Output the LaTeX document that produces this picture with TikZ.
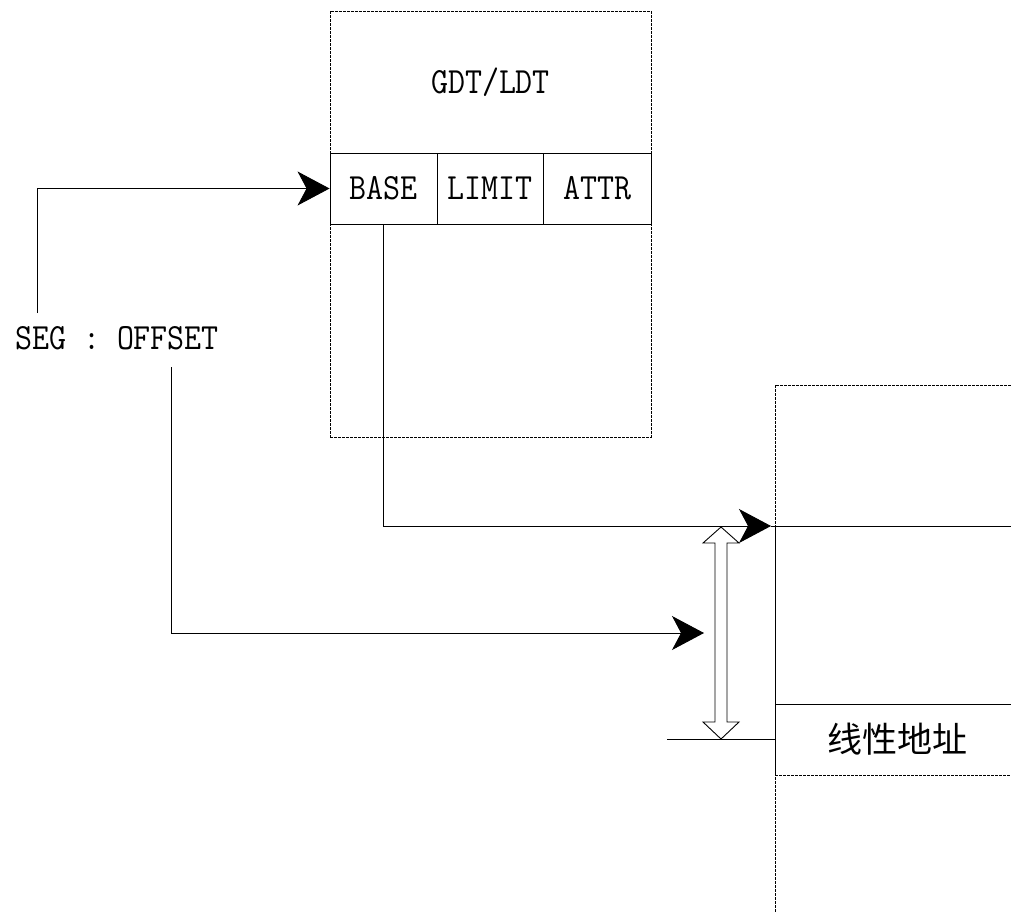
\documentclass[tikz,border=0pt]{standalone}
\usepackage{fontspec}
\newfontfamily\cjk{Noto Sans CJK SC}
\usetikzlibrary{arrows.meta}
\newcommand\tallt[1]{\scalebox{1}[1.12]{#1}}
\begin{document}
\begin{tikzpicture}[x=1pt,y=-1pt,
  line width=0.9pt,
  dotbox/.style={draw, dash pattern=on 3pt off 1pt, line width=0.9pt},
  cell/.style={draw, minimum height=71pt, inner sep=0pt, font=\fontsize{33}{36}\selectfont\ttfamily},
  lbl/.style={inner sep=0pt, font=\fontsize{33}{36}\selectfont\ttfamily},
  arr/.style={-{Stealth[length=32pt,width=34pt,inset=9pt]}},
  dbl/.style={draw, fill=white, line width=0.9pt}]
\useasboundingbox (0,0) rectangle (1011,913);
% GDT/LDT table
\node[dotbox, minimum width=321pt, minimum height=426pt, inner sep=0pt] (gdt) at (490.5,224) {};
\node[lbl] (gdtlbl) at (490.5,82) {\tallt{GDT/LDT}};
\node[cell, minimum width=107pt] (base) at (383.5,188.5) {\tallt{BASE}};
\node[cell, minimum width=106pt] (limit) at (490,188.5) {\tallt{LIMIT}};
\node[cell, minimum width=108pt] (attr) at (597,188.5) {\tallt{ATTR}};
% segment:offset
\node[lbl] (seg) at (117,338) {\tallt{SEG : OFFSET}};
\coordinate (segtop) at (37,313);
\coordinate (offbot) at (171,367);
% memory
\coordinate (memtl) at (775,385);
\draw[dotbox] (1011,385) -- (memtl) -- (775,913);
\coordinate (memtop) at (775,526);
\draw (1011,526) -- (memtop) -- (775,775);
\draw (775,704) -- (1011,704);
\draw[dotbox] (775,775) -- (1011,775);
\node[inner sep=0pt, minimum width=236pt, minimum height=71pt, font=\fontsize{35}{38}\selectfont\cjk] (linear) at (893,739.5) {\hspace{8pt}线性地址};
% connectors
\coordinate (memarr) at (771,526);
\draw[arr] (segtop) |- (base.west);
\draw[arr] (base.south) |- (memarr);
\draw (memarr) -- (memtop);
\coordinate (offtip) at (704,633);
\draw[arr] (offbot) |- (offtip);
\coordinate (lin0) at (667,739.5);
\draw (lin0) -- (linear.west);
% hollow double arrow
\coordinate (dtop) at (721,527);
\coordinate (dbot) at (721,739);
\draw[dbl] (dtop) -- ++(18,16) -- ++(-12,0) -- (727,722) -- ++(12,0) -- (dbot) -- ++(-18,-17) -- ++(12,0) -- (715,543) -- ++(-12,0) -- cycle;
\end{tikzpicture}
\end{document}
